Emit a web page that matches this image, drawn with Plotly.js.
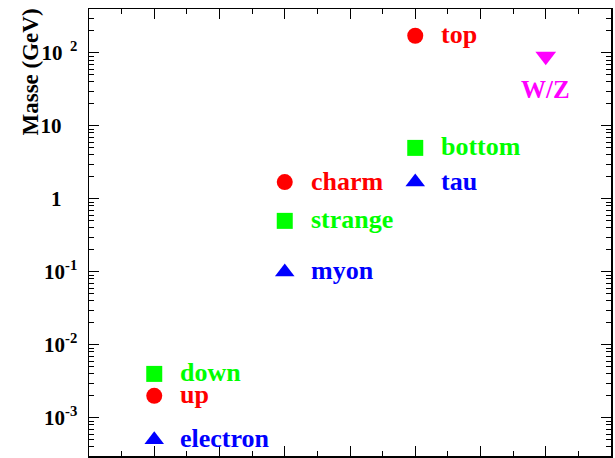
<!DOCTYPE html>
<html>
<head>
<meta charset="utf-8">
<script src="https://cdn.plot.ly/plotly-3.0.1.min.js"></script>
<style>html,body{margin:0;padding:0;background:#fff;}#chart{width:615px;height:458px;}</style>
</head>
<body>
<div id="chart"></div>
<script>
// Data (masses in GeV)
const leptonNames = ['electron', 'myon', 'tau'];
const leptonX = [1, 2, 3];
const leptonMass = [0.0005, 0.1, 1.7];

const upNames = ['up', 'charm', 'top'];
const upX = [1, 2, 3];
const upMass = [0.002, 1.7, 172];

const downNames = ['down', 'strange', 'bottom'];
const downX = [1, 2, 3];
const downMass = [0.004, 0.5, 5];

const bosonNames = ['W/Z'];
const bosonX = [4];
const bosonMass = [90];

const yTickVals = [0.001, 0.01, 0.1, 1, 10, 100];
const yTickText = ['10<sup>-3</sup>', '10<sup>-2</sup>', '10<sup>-1</sup>', '1\u00a0\u00a0\u00a0', '10\u00a0\u00a0\u00a0', '10<sup>\u00a0\u00a02</sup>'];

const RED = '#ff0000', GREEN = '#00ff00', BLUE = '#0000ff', MAGENTA = '#ff00ff';
const FONT = 'Liberation Serif, Times New Roman, serif';

const groups = [
  {names: leptonNames, x: leptonX, y: leptonMass, color: BLUE, symbol: 'triangle-up', size: 17},
  {names: upNames, x: upX, y: upMass, color: RED, symbol: 'circle', size: 16},
  {names: downNames, x: downX, y: downMass, color: GREEN, symbol: 'square', size: 16},
  {names: bosonNames, x: bosonX, y: bosonMass, color: MAGENTA, symbol: 'triangle-down', size: 18, below: true}
];

const traces = groups.map(g => ({
  type: 'scatter', mode: 'markers', x: g.x, y: g.y,
  marker: {color: g.color, symbol: g.symbol, size: g.size, line: {width: 0}},
  showlegend: false, hoverinfo: 'skip'
}));

const annotations = [];
groups.forEach(g => {
  g.names.forEach((n, i) => {
    annotations.push(g.below ? {
      x: g.x[i], y: Math.log10(g.y[i]), xref: 'x', yref: 'y', text: n, showarrow: false,
      xanchor: 'center', yanchor: 'middle', yshift: -33,
      font: {family: FONT, size: 25, color: g.color, weight: 'bold'}
    } : {
      x: g.x[i], y: Math.log10(g.y[i]), xref: 'x', yref: 'y', text: n, showarrow: false,
      xanchor: 'left', yanchor: 'middle', xshift: 24, yshift: 1,
      font: {family: FONT, size: 26, color: g.color, weight: 'bold'}
    });
  });
});

annotations.push({
  xref: 'paper', yref: 'paper', x: 0, y: 1, xshift: -59, yshift: 2,
  xanchor: 'center', yanchor: 'top', textangle: -90, showarrow: false,
  text: 'Masse (GeV)', font: {family: FONT, size: 23, color: '#000', weight: 'bold'}
});

// minor tick positions for log axis: 2..9 in each decade
const yMinor = [];
for (let e = -4; e <= 2; e++) for (let m = 2; m <= 9; m++) yMinor.push(m * Math.pow(10, e));

const layout = {
  width: 615, height: 458,
  margin: {l: 89, r: 4, t: 9, b: 2},
  paper_bgcolor: '#fff', plot_bgcolor: '#fff',
  showlegend: false,
  xaxis: {
    range: [0.5, 4.5], showgrid: false, zeroline: false,
    showline: true, linecolor: '#000', linewidth: 1.5, mirror: 'ticks',
    ticks: 'inside', ticklen: 10, tickwidth: 1, tickcolor: '#000',
    tick0: 0.5, dtick: 0.5, showticklabels: false,
    minor: {ticks: 'inside', ticklen: 5, tickwidth: 1, tickcolor: '#000', tick0: 0.5, dtick: 0.25, showgrid: false}
  },
  yaxis: {
    type: 'log', range: [Math.log10(3e-4), Math.log10(400)],
    showgrid: false, zeroline: false,
    showline: true, linecolor: '#000', linewidth: 1.5, mirror: 'ticks',
    ticks: 'inside', ticklen: 10, tickwidth: 1, tickcolor: '#000',
    tickmode: 'array', tickvals: yTickVals, ticktext: yTickText,
    ticklabelstandoff: 6,
    tickfont: {family: FONT, size: 21, color: '#000', weight: 'bold'},
    minor: {ticks: 'inside', ticklen: 5, tickwidth: 1, tickcolor: '#000', tickmode: 'array', tickvals: yMinor, showgrid: false}
  },
  annotations: annotations
};

Plotly.newPlot('chart', traces, layout, {staticPlot: true, displayModeBar: false});
</script>
</body>
</html>
